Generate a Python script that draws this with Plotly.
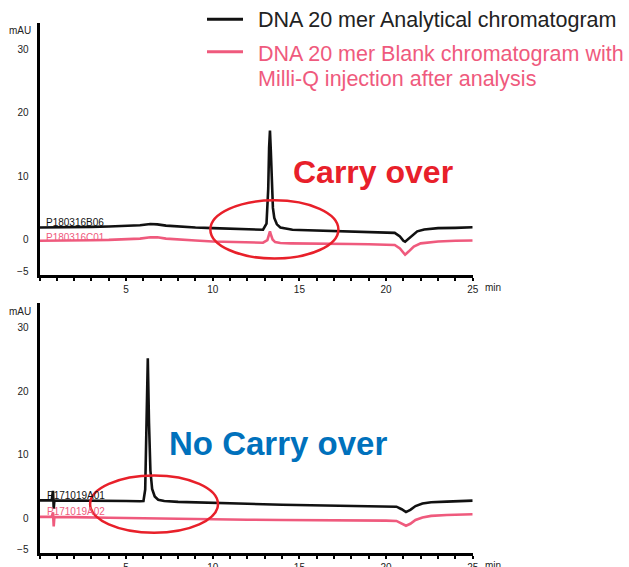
import plotly.graph_objects as go

W, H = 629, 567

# ---------------- data ----------------
# Top panel: carry-over case
top_sample_t = [0, 1, 2, 3, 4, 5, 5.8, 6.4, 6.8, 7.3, 8, 9, 10, 11, 12, 12.9, 13.1, 13.2, 13.25, 13.3,
                13.35, 13.4, 13.47, 13.55, 13.7, 13.9, 14.2, 14.6, 15, 16, 17, 18, 19, 20, 20.5, 20.8,
                21.0, 21.1, 21.25, 21.5, 21.8, 22.2, 23, 24, 25]
top_sample_v = [1.9, 1.9, 1.95, 2.0, 2.05, 2.1, 2.25, 2.45, 2.4, 2.2, 2.05, 1.9, 1.8, 1.7, 1.6, 1.55, 2.5,
                8.0, 14.5, 17.2, 14.0, 8.5, 5.0, 3.4, 2.4, 1.9, 1.7, 1.55, 1.5, 1.4, 1.35, 1.3, 1.2, 1.1,
                1.05, 0.5, -0.2, -0.35, 0.0, 0.7, 1.3, 1.6, 1.8, 1.85, 1.95]
top_blank_t = [0, 1, 2, 3, 4, 5, 5.8, 6.4, 6.8, 7.3, 8, 9, 10, 11, 12, 12.9, 13.15, 13.25, 13.3, 13.35,
               13.45, 13.6, 13.9, 14.5, 15, 16, 17, 18, 19, 20, 20.5, 20.8, 21.0, 21.1, 21.3, 21.6, 22,
               22.5, 23, 24, 25]
top_blank_v = [-0.2, -0.2, -0.15, -0.1, -0.05, 0.0, 0.15, 0.35, 0.35, 0.15, 0.0, -0.15, -0.3, -0.35,
               -0.45, -0.5, -0.1, 0.9, 1.3, 0.8, 0.0, -0.4, -0.55, -0.6, -0.6, -0.65, -0.7, -0.7, -0.75,
               -0.8, -0.85, -1.4, -2.2, -2.4, -1.9, -1.1, -0.6, -0.4, -0.3, -0.2, -0.15]

# Bottom panel: no carry-over case
bot_sample_t = [0, 0.7, 0.78, 0.82, 0.86, 0.9, 1.5, 3, 4, 5, 5.8, 6.0, 6.1, 6.18, 6.25, 6.32, 6.4, 6.5,
                6.65, 6.85, 7.2, 8, 9, 10, 12, 14, 15, 16, 17, 18, 19, 20, 20.6, 20.9, 21.15, 21.4, 21.7,
                22.1, 22.6, 23.5, 25]
bot_sample_v = [2.8, 2.8, 4.3, 1.5, 2.8, 2.8, 2.8, 2.75, 2.7, 2.7, 2.65, 2.7, 4.5, 15, 25.2, 15, 7.5, 4.6,
                3.4, 2.9, 2.7, 2.55, 2.45, 2.4, 2.25, 2.1, 2.05, 2.0, 2.05, 2.0, 1.9, 1.85, 1.8, 1.4, 0.95,
                1.3, 1.9, 2.3, 2.5, 2.6, 2.75]
bot_blank_t = [0, 0.7, 0.78, 0.82, 0.86, 0.9, 2, 4, 6, 8, 10, 12, 14, 15, 16, 18, 20, 20.6, 20.9, 21.15,
               21.4, 21.7, 22.1, 22.6, 23.5, 25]
bot_blank_v = [0.2, 0.2, 0.9, -1.3, 0.2, 0.2, 0.15, 0.05, -0.05, -0.15, -0.2, -0.25, -0.3, -0.3, -0.3,
               -0.35, -0.4, -0.45, -0.8, -1.2, -0.9, -0.3, 0.1, 0.35, 0.5, 0.6]

x_tick_vals = [5, 10, 15, 20, 25]
y_tick_vals = [-5, 0, 10, 20, 30]
y_tick_text = ["\u22125", "0", "10", "20", "30"]

sample_names = ["P180316B06", "P171019A01"]
blank_names = ["P180316C01", "P171019A02"]
legend_sample = "DNA 20 mer Analytical chromatogram"
legend_blank_lines = ["DNA 20 mer Blank chromatogram with", "Milli-Q injection after analysis"]
callouts = ["Carry over", "No Carry over"]

# ---------------- style ----------------
BLACK = "#111111"
PINK = "#ef5a7d"
RED = "#e8202a"
BLUE = "#0071bc"
FONT = "Arial, Liberation Sans, Helvetica, sans-serif"


def px_x(p):
    return p / W


def px_y(p):
    return 1 - p / H


fig = go.Figure()

fig.add_trace(go.Scatter(x=top_sample_t, y=top_sample_v, mode="lines", xaxis="x", yaxis="y",
                         line=dict(color=BLACK, width=2.6), showlegend=False, name=sample_names[0]))
fig.add_trace(go.Scatter(x=top_blank_t, y=top_blank_v, mode="lines", xaxis="x", yaxis="y",
                         line=dict(color=PINK, width=2.6), showlegend=False, name=blank_names[0]))
fig.add_trace(go.Scatter(x=bot_sample_t, y=bot_sample_v, mode="lines", xaxis="x2", yaxis="y2",
                         line=dict(color=BLACK, width=2.6), showlegend=False, name=sample_names[1]))
fig.add_trace(go.Scatter(x=bot_blank_t, y=bot_blank_v, mode="lines", xaxis="x2", yaxis="y2",
                         line=dict(color=PINK, width=2.6), showlegend=False, name=blank_names[1]))

xdom = [px_x(39.5), px_x(472.7)]
xaxis_common = dict(
    range=[0, 25], domain=xdom, showline=True, linewidth=3, linecolor="black", mirror=False,
    showgrid=False, zeroline=False, tickvals=x_tick_vals, ticks="outside", ticklen=3, tickwidth=1.5,
    tickcolor="black", tickfont=dict(family=FONT, size=10, color="#222"),
    minor=dict(dtick=1, tick0=0, ticks="outside", ticklen=2.5, tickwidth=1.5, tickcolor="black"),
    fixedrange=True, automargin=False,
)
yaxis_common = dict(
    showline=True, linewidth=3, linecolor="black", showgrid=False, zeroline=False,
    tickvals=y_tick_vals, ticktext=y_tick_text, ticks="", ticklabelstandoff=6,
    tickfont=dict(family=FONT, size=10, color="#222"), fixedrange=True, automargin=False,
)

fig.update_layout(
    width=W, height=H, margin=dict(l=0, r=0, t=0, b=0, autoexpand=False),
    paper_bgcolor="white", plot_bgcolor="white", showlegend=False,
    xaxis=dict(**xaxis_common, anchor="y"),
    yaxis=dict(**yaxis_common, range=[-5.6, 34.2], domain=[px_y(275), px_y(23)], anchor="x"),
    xaxis2=dict(**xaxis_common, anchor="y2"),
    yaxis2=dict(**yaxis_common, range=[-5.5, 33.9], domain=[px_y(553), px_y(303)], anchor="x2"),
)

annotations = []
shapes = []

# axis unit labels
for yp in (30, 311):
    annotations.append(dict(x=px_x(33), y=px_y(yp), xref="paper", yref="paper", text="mAU",
                            showarrow=False, xanchor="right", yanchor="middle",
                            font=dict(family=FONT, size=10, color="#222")))
for yp in (287, 565):
    annotations.append(dict(x=px_x(493), y=px_y(yp), xref="paper", yref="paper", text="min",
                            showarrow=False, xanchor="center", yanchor="middle",
                            font=dict(family=FONT, size=10, color="#222")))

# trace name labels
annotations += [
    dict(x=0.25, y=2.7, xref="x", yref="y", text=sample_names[0], showarrow=False, xanchor="left",
         yanchor="middle", font=dict(family=FONT, size=10, color=BLACK)),
    dict(x=0.25, y=0.3, xref="x", yref="y", text=blank_names[0], showarrow=False, xanchor="left",
         yanchor="middle", font=dict(family=FONT, size=10, color=PINK)),
    dict(x=0.3, y=3.6, xref="x2", yref="y2", text=sample_names[1], showarrow=False, xanchor="left",
         yanchor="middle", font=dict(family=FONT, size=10, color=BLACK)),
    dict(x=0.3, y=1.1, xref="x2", yref="y2", text=blank_names[1], showarrow=False, xanchor="left",
         yanchor="middle", font=dict(family=FONT, size=10, color=PINK)),
]

# legend (drawn manually)
shapes += [
    dict(type="line", xref="paper", yref="paper", x0=px_x(207), x1=px_x(243), y0=px_y(19.3),
         y1=px_y(19.3), line=dict(color=BLACK, width=3)),
    dict(type="line", xref="paper", yref="paper", x0=px_x(207), x1=px_x(243), y0=px_y(51.7),
         y1=px_y(51.7), line=dict(color=PINK, width=3)),
]
annotations += [
    dict(x=px_x(256), y=px_y(20), xref="paper", yref="paper", text=legend_sample, showarrow=False,
         xanchor="left", yanchor="middle", font=dict(family=FONT, size=21.5, color="#222")),
    dict(x=px_x(256), y=px_y(54), xref="paper", yref="paper", text=legend_blank_lines[0],
         showarrow=False, xanchor="left", yanchor="middle",
         font=dict(family=FONT, size=21.5, color=PINK)),
    dict(x=px_x(256), y=px_y(79), xref="paper", yref="paper", text=legend_blank_lines[1],
         showarrow=False, xanchor="left", yanchor="middle",
         font=dict(family=FONT, size=21.5, color=PINK)),
]

# callouts
annotations += [
    dict(x=px_x(373), y=px_y(172), xref="paper", yref="paper", text="<b>%s</b>" % callouts[0],
         showarrow=False, xanchor="center", yanchor="middle",
         font=dict(family=FONT, size=32, color=RED)),
    dict(x=px_x(277.5), y=px_y(443), xref="paper", yref="paper", text="<b>%s</b>" % callouts[1],
         showarrow=False, xanchor="center", yanchor="middle",
         font=dict(family=FONT, size=33, color=BLUE)),
]

# highlight ellipses
shapes += [
    dict(type="circle", xref="x", yref="y", x0=9.86, x1=17.25, y0=-3.0, y1=6.2,
         line=dict(color=RED, width=2.5)),
    dict(type="circle", xref="x2", yref="y2", x0=2.92, x1=10.3, y0=-2.3, y1=6.7,
         line=dict(color=RED, width=2.5)),
]

fig.update_layout(annotations=annotations, shapes=shapes)

# remove the default page margin so the 629x567 figure fills the window exactly
fig.write_html(
    "out.html",
    config={"displayModeBar": False},
    post_script="document.body.style.margin='0';document.body.style.overflow='hidden';",
)
